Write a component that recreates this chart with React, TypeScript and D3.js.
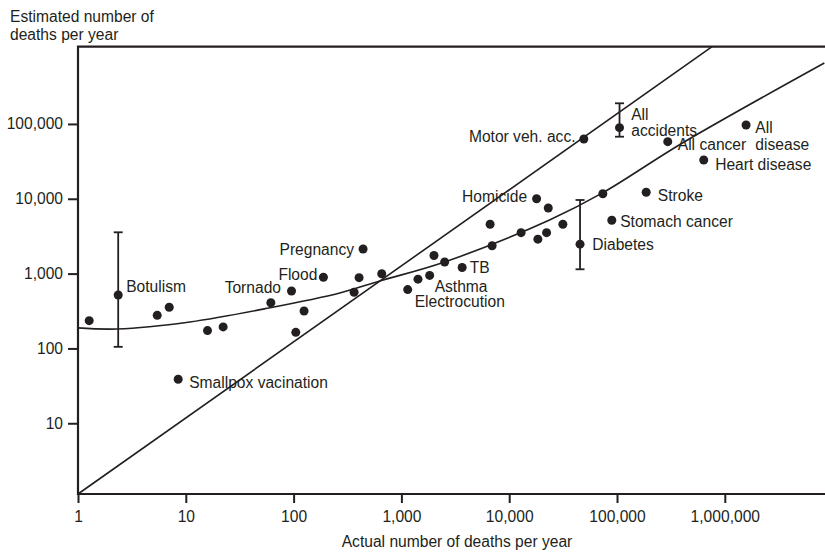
import React, { useEffect, useRef } from "react";
import * as d3 from "d3";

// actual vs estimated deaths per year (log-log)
const actual = [
  1.27, 2.36, 5.43, 7.02, 15.9, 22.2, 8.5, 61.5, 95.6, 104.8, 125, 189, 364, 405, 441, 657,
  1144, 1425, 1829, 2005, 2519, 3660, 6653, 6942, 12890, 17950, 23040, 18450, 22220, 31460,
  45400, 49240, 105500, 73860, 186500, 89500, 295700, 637600, 1575000,
];
const estimated = [
  235, 518, 277, 355, 173, 194, 38.7, 408, 586, 164, 316, 893, 563, 882, 2133, 997,
  611, 842, 946, 1746, 1429, 1207, 4560, 2353, 3522, 10020, 7530, 2884, 3522, 4560,
  2472, 62930, 89100, 11690, 12210, 5157, 57940, 32980, 96830,
];
const names = [
  "", "Botulism", "", "", "", "", "Smallpox vacination", "", "Tornado", "", "", "Flood", "", "", "Pregnancy", "",
  "Electrocution", "", "Asthma", "", "", "TB", "", "", "", "Homicide", "", "", "", "",
  "Diabetes", "Motor veh. acc.", "All|accidents", "", "Stroke", "Stomach cancer", "All cancer", "Heart disease", "All|disease",
];

// error ranges
const errorNames = ["Botulism", "Diabetes", "All|accidents"];
const errorLow = [105, 1142, 67530];
const errorHigh = [3565, 9632, 188800];

// fitted curve
const curveX = [1, 2.3, 10.9, 58.9, 268, 629, 2518, 23660, 73400, 404600, 8380000];
const curveY = [188, 182, 226, 347, 551, 796, 1429, 5210, 11970, 55600, 651000];

// equality line
const diagX = [1, 762000];
const diagY = [1.134, 1077000];

const xTicks = [1, 10, 100, 1000, 10000, 100000, 1000000];
const yTicks = [10, 100, 1000, 10000, 100000];

// label placement relative to its dot: dx, dy, anchor
const labelPos: Record<string, [number, number, string]> = {
  "Botulism": [8, -9, "start"],
  "Tornado": [-10.5, -3.5, "end"],
  "Flood": [-6, -3, "end"],
  "Pregnancy": [-9, 0, "end"],
  "Smallpox vacination": [11, 3, "start"],
  "TB": [7.5, 0, "start"],
  "Asthma": [5, 10.6, "start"],
  "Electrocution": [7, 12, "start"],
  "Homicide": [-9.5, -2, "end"],
  "Motor veh. acc.": [-8.3, -2.3, "end"],
  "All|accidents": [11.7, -13.4, "start"],
  "All cancer": [10, 2.6, "start"],
  "All|disease": [9.3, 2.7, "start"],
  "Heart disease": [11.4, 4, "start"],
  "Stroke": [11.6, 2.7, "start"],
  "Stomach cancer": [8.4, 0.7, "start"],
  "Diabetes": [12.2, 0, "start"],
};

const W = 825;
const H = 554;
const INK = "#231f20";
const FONT = "'Liberation Sans', Arial, sans-serif";
const FS = 15.6;

const App: React.FC = () => {
  const svgRef = useRef<SVGSVGElement>(null);

  useEffect(() => {
    if (!svgRef.current) return;
    const svg = d3.select(svgRef.current);
    svg.selectAll("*").remove();

    const x = d3.scaleLog().domain([1, 8500000]).range([78, 825]);
    const y = d3.scaleLog().domain([1.134, 1077000]).range([494, 46.7]);

    const x0 = x.range()[0], x1 = x.range()[1];
    const yb = y.range()[0], yt = y.range()[1];

    // frame: left, bottom, top
    svg.append("path")
      .attr("d", `M${x1},${yt}H${x0}V${yb}H${x1}`)
      .attr("fill", "none")
      .attr("stroke", INK)
      .attr("stroke-width", 2.2);

    const fmt = d3.format(",");

    const xAxis = svg.append("g")
      .attr("transform", `translate(0,${yb})`)
      .call(d3.axisBottom(x).tickValues(xTicks).tickFormat((d: any) => fmt(d)).tickSize(9).tickPadding(8));
    const yAxis = svg.append("g")
      .attr("transform", `translate(${x0},0)`)
      .call(d3.axisLeft(y).tickValues(yTicks).tickFormat((d: any) => fmt(d)).tickSize(10).tickPadding(5));

    [xAxis, yAxis].forEach(a => {
      a.select(".domain").remove();
      a.selectAll("line").attr("stroke", INK).attr("stroke-width", 2);
      a.selectAll("text")
        .attr("fill", INK)
        .style("font-family", FONT)
        .style("font-size", `${FS}px`);
    });

    // fit lines
    const line = d3.line<[number, number]>()
      .x(d => x(d[0]))
      .y(d => y(d[1]))
      .curve(d3.curveCatmullRom.alpha(0.5));

    svg.append("path")
      .datum(diagX.map((v, i) => [v, diagY[i]] as [number, number]))
      .attr("d", d3.line<[number, number]>().x(d => x(d[0])).y(d => y(d[1])))
      .attr("fill", "none")
      .attr("stroke", INK)
      .attr("stroke-width", 1.6);

    svg.append("path")
      .datum(curveX.map((v, i) => [v, curveY[i]] as [number, number]))
      .attr("d", line)
      .attr("fill", "none")
      .attr("stroke", INK)
      .attr("stroke-width", 1.6);

    // error bars
    errorNames.forEach((n, i) => {
      const idx = names.indexOf(n);
      const cx = x(actual[idx]);
      const g = svg.append("g").attr("stroke", INK).attr("stroke-width", 1.8);
      g.append("line").attr("x1", cx).attr("x2", cx).attr("y1", y(errorLow[i])).attr("y2", y(errorHigh[i]));
      [errorLow[i], errorHigh[i]].forEach(v => {
        g.append("line").attr("x1", cx - 4.5).attr("x2", cx + 4.5).attr("y1", y(v)).attr("y2", y(v));
      });
    });

    // dots
    svg.append("g")
      .selectAll("circle")
      .data(actual.map((v, i) => ({ a: v, e: estimated[i], name: names[i] })))
      .join("circle")
      .attr("cx", d => x(d.a))
      .attr("cy", d => y(d.e))
      .attr("r", 4.5)
      .attr("fill", INK);

    // labels
    const labels = svg.append("g")
      .style("font-family", FONT)
      .style("font-size", `${FS}px`)
      .attr("fill", INK);

    names.forEach((n, i) => {
      if (!n) return;
      const [dx, dy, anchor] = labelPos[n];
      const t = labels.append("text")
        .attr("x", x(actual[i]) + dx)
        .attr("y", y(estimated[i]) + dy)
        .attr("text-anchor", anchor);
      n.split("|").forEach((part, k) => {
        t.append("tspan")
          .attr("x", x(actual[i]) + dx)
          .attr("dy", k === 0 ? "0.36em" : "1.06em")
          .text(part);
      });
    });

    // axis titles
    const titles = svg.append("g")
      .style("font-family", FONT)
      .style("font-size", `${FS}px`)
      .attr("fill", INK);
    titles.append("text").attr("x", 10).attr("y", 21.7).text("Estimated number of");
    titles.append("text").attr("x", 10).attr("y", 40).text("deaths per year");
    titles.append("text")
      .attr("x", 457)
      .attr("y", 547)
      .attr("text-anchor", "middle")
      .text("Actual number of deaths per year");
  }, []);

  return (
    <svg
      ref={svgRef}
      width={W}
      height={H}
      style={{ position: "absolute", left: 0, top: 0, background: "#fff" }}
    />
  );
};

export default App;
